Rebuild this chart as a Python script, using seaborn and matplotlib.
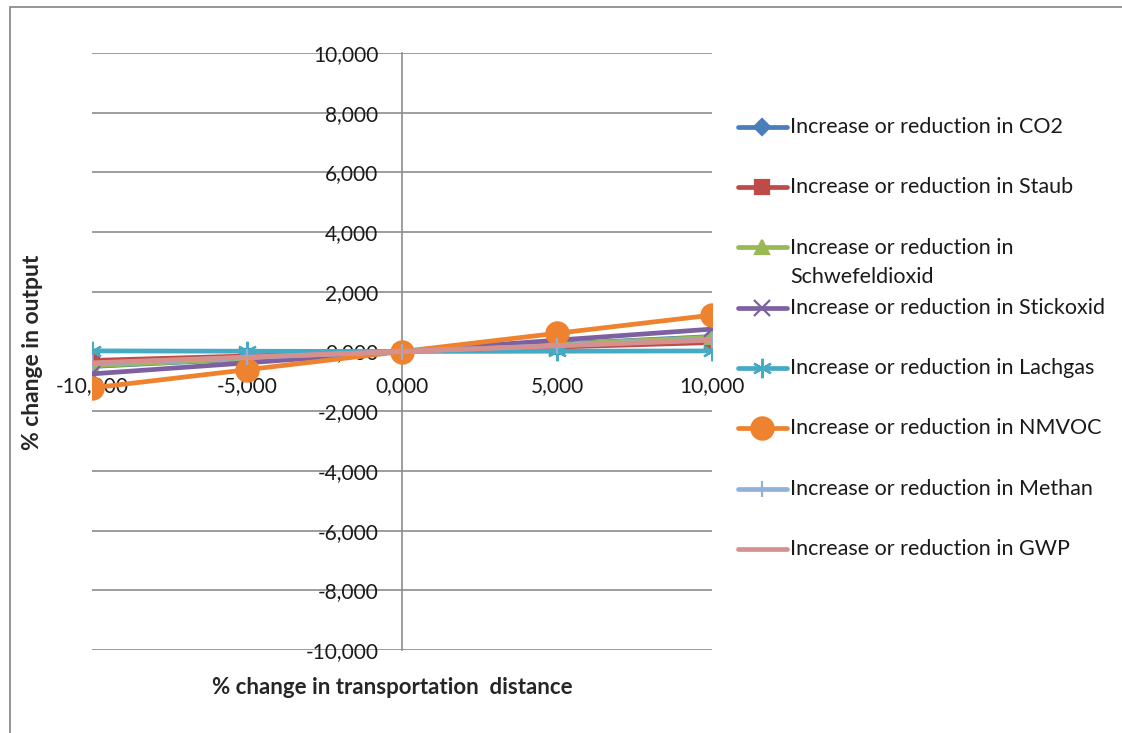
import matplotlib
matplotlib.use("Agg")
import matplotlib.pyplot as plt
from matplotlib.lines import Line2D
from matplotlib.patches import Rectangle
from matplotlib.ticker import FuncFormatter
import seaborn as sns
import pandas as pd

sns.set_theme(style="white")
plt.rcParams["font.family"] = ["Lato", "DejaVu Sans"]

# % change in transportation distance
distance_change = [-10, -5, 0, 5, 10]

# % change in output for each emission
co2 = [-0.50, -0.25, 0.0, 0.25, 0.50]
staub = [-0.30, -0.15, 0.0, 0.15, 0.30]
schwefeldioxid = [-0.48, -0.24, 0.0, 0.24, 0.48]
stickoxid = [-0.75, -0.38, 0.0, 0.38, 0.75]
lachgas = [0.02, 0.01, 0.0, 0.01, 0.02]
nmvoc = [-1.22, -0.61, 0.0, 0.61, 1.22]
methan = [-0.40, -0.20, 0.0, 0.20, 0.40]
gwp = [-0.38, -0.19, 0.0, 0.19, 0.38]

series_names = ["CO2", "Staub", "Schwefeldioxid", "Stickoxid",
                "Lachgas", "NMVOC", "Methan", "GWP"]
series_values = [co2, staub, schwefeldioxid, stickoxid,
                 lachgas, nmvoc, methan, gwp]
legend_labels = ["Increase or reduction in " + n for n in series_names]
legend_labels[2] = "Increase or reduction in\nSchwefeldioxid"

colors = ["#4A7EBB", "#BE4B48", "#98B954", "#7D60A0",
          "#46AAC5", "#EE822F", "#92B0D8", "#D6908E"]
markers = ["D", "s", "^", "x", (6, 2, 0), "o", "+", None]
msizes = [8, 10, 10, 12, 14, 16, 12, 0]

rows = []
for name, vals in zip(series_names, series_values):
    for x, y in zip(distance_change, vals):
        rows.append({"distance": x, "output": y, "series": name})
df = pd.DataFrame(rows)

W, H = 1122, 733
fig = plt.figure(figsize=(W / 100, H / 100), dpi=100)
ax = fig.add_axes([92 / W, 1 - 650 / H, (712 - 92) / W, (650 - 53) / H])

# outer chart-area border
fig.patches.append(Rectangle((10 / W, -0.05), 1.2, 1 - 7 / H + 0.05,
                             transform=fig.transFigure, fill=False,
                             edgecolor="#8c8c8c", linewidth=1.3, zorder=0))

for name, col, mk, ms in zip(series_names, colors, markers, msizes):
    sub = df[df["series"] == name]
    sns.lineplot(data=sub, x="distance", y="output", ax=ax, color=col,
                 linewidth=3.4, marker=mk,
                 markersize=ms, markeredgecolor=col, markeredgewidth=1.6,
                 legend=False, sort=False)

ax.set_xlim(-10, 10)
ax.set_ylim(-10, 10)
ax.set_yticks(range(-10, 11, 2))
ax.set_xticks(distance_change)
fmt = FuncFormatter(lambda v, p: f"{v:.3f}".replace(".", ","))
ax.xaxis.set_major_formatter(fmt)
ax.yaxis.set_major_formatter(fmt)

ax.grid(False)
for yv in range(-10, 11, 2):
    ax.axhline(yv, color="#8c8c8c", linewidth=1.2, zorder=0)
for s in ["top", "right", "bottom"]:
    ax.spines[s].set_visible(False)
ax.spines["left"].set_position(("data", 0))
ax.spines["left"].set_color("#8c8c8c")
ax.spines["left"].set_linewidth(1.2)
ax.spines["left"].set_zorder(0)

ax.tick_params(axis="both", length=0, labelsize=15, colors="#1a1a1a")
ax.tick_params(axis="y", pad=17)
ax.tick_params(axis="x", pad=0)
# x tick labels sit just below the zero line
for lbl in ax.get_xticklabels():
    lbl.set_y(0.5 - 25 / (650 - 53))
ax.xaxis.set_ticks_position("bottom")
ax.patch.set_alpha(0)

ax.set_xlabel("")
ax.set_ylabel("")
fig.text(392 / W, 1 - 688 / H, "% change in transportation  distance",
         ha="center", va="center", fontsize=16, fontweight="bold")
fig.text(33 / W, 1 - 352 / H, "% change in output", ha="center",
         va="center", rotation=90, fontsize=16.5, fontweight="bold")

# legend entries
ys = [127, 187, 247, 308, 368, 428, 489, 549]
for lab, col, mk, ms, yp in zip(legend_labels, colors, markers, msizes, ys):
    yf = 1 - yp / H
    fig.add_artist(Line2D([738 / W, 787 / W], [yf, yf],
                          transform=fig.transFigure, color=col, linewidth=3.4))
    if mk is not None:
        fig.add_artist(Line2D([762 / W], [yf], transform=fig.transFigure,
                              color=col, marker=mk, markersize=ms,
                              markeredgecolor=col, markeredgewidth=1.6))
    if "\n" in lab:
        fig.text(790 / W, yf + 9 / H, lab, ha="left", va="top",
                 fontsize=15.5, color="#1a1a1a", linespacing=1.55)
    else:
        fig.text(790 / W, yf, lab, ha="left", va="center",
                 fontsize=15.5, color="#1a1a1a")

fig.savefig("out.png", dpi=100, facecolor="white")
